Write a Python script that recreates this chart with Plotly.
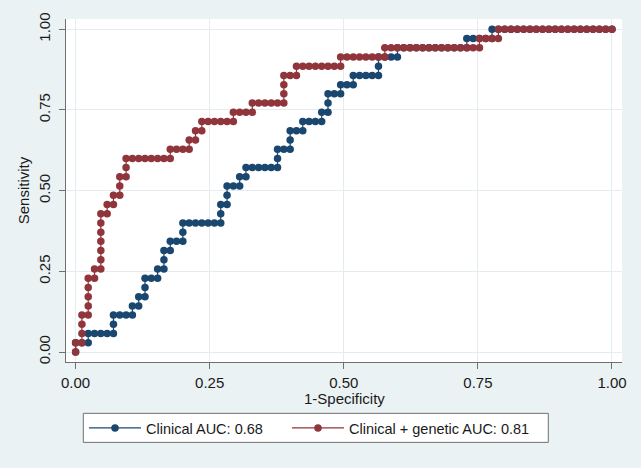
import plotly.graph_objects as go

# Counts of false positives / true positives at each plotted cutoff
N_NEG = 85
N_POS = 35

clinical_points = [
    (0, 0), (0, 1), (1, 1), (2, 1), (2, 2), (3, 2), (4, 2), (5, 2), (6, 2), (6, 3), (6, 4),
    (7, 4), (8, 4), (9, 4), (9, 5), (10, 5), (10, 6), (11, 6), (11, 7), (11, 8), (12, 8),
    (13, 8), (13, 9), (14, 9), (14, 10), (14, 11), (15, 11), (15, 12), (16, 12), (17, 12),
    (17, 13), (17, 14), (18, 14), (19, 14), (20, 14), (21, 14), (22, 14), (23, 14), (23, 15),
    (23, 16), (24, 16), (24, 17), (24, 18), (25, 18), (26, 18), (26, 19), (27, 19), (27, 20),
    (28, 20), (29, 20), (30, 20), (31, 20), (32, 20), (32, 21), (32, 22), (33, 22), (34, 22),
    (34, 23), (34, 24), (35, 24), (36, 24), (36, 25), (37, 25), (38, 25), (39, 25), (39, 26),
    (40, 26), (40, 27), (40, 28), (41, 28), (42, 28), (42, 29), (43, 29), (44, 29), (44, 30),
    (45, 30), (46, 30), (47, 30), (48, 30), (48, 31), (48, 32), (49, 32), (50, 32), (51, 32),
    (51, 33), (52, 33), (53, 33), (54, 33), (55, 33), (56, 33), (57, 33), (58, 33), (59, 33),
    (60, 33), (61, 33), (62, 33), (62, 34), (63, 34), (64, 34), (65, 34), (66, 34), (66, 35),
    (67, 35), (68, 35), (69, 35), (70, 35), (71, 35), (72, 35), (73, 35), (74, 35), (75, 35),
    (76, 35), (77, 35), (78, 35), (79, 35), (80, 35), (81, 35), (82, 35), (83, 35), (84, 35),
    (85, 35),
]

genetic_points = [
    (0, 0), (0, 1), (1, 1), (1, 2), (1, 3), (1, 4), (2, 4), (2, 5), (2, 6), (2, 7), (2, 8),
    (3, 8), (3, 9), (4, 9), (4, 10), (4, 11), (4, 12), (4, 13), (4, 14), (4, 15), (5, 15),
    (5, 16), (6, 16), (6, 17), (7, 17), (7, 18), (7, 19), (8, 19), (8, 20), (8, 21), (9, 21),
    (10, 21), (11, 21), (12, 21), (13, 21), (14, 21), (15, 21), (15, 22), (16, 22), (17, 22),
    (18, 22), (18, 23), (19, 23), (19, 24), (20, 24), (20, 25), (21, 25), (22, 25), (23, 25),
    (24, 25), (25, 25), (25, 26), (26, 26), (27, 26), (28, 26), (28, 27), (29, 27), (30, 27),
    (31, 27), (32, 27), (33, 27), (33, 28), (33, 29), (33, 30), (34, 30), (35, 30), (35, 31),
    (36, 31), (37, 31), (38, 31), (39, 31), (40, 31), (41, 31), (42, 31), (42, 32), (43, 32),
    (44, 32), (45, 32), (46, 32), (47, 32), (48, 32), (49, 32), (49, 33), (50, 33), (51, 33),
    (52, 33), (53, 33), (54, 33), (55, 33), (56, 33), (57, 33), (58, 33), (59, 33), (60, 33),
    (61, 33), (62, 33), (63, 33), (64, 33), (64, 34), (65, 34), (66, 34), (67, 34), (67, 35),
    (68, 35), (69, 35), (70, 35), (71, 35), (72, 35), (73, 35), (74, 35), (75, 35), (76, 35),
    (77, 35), (78, 35), (79, 35), (80, 35), (81, 35), (82, 35), (83, 35), (84, 35), (85, 35),
]

series_names = ["Clinical AUC: 0.68", "Clinical + genetic AUC: 0.81"]
series_colors = ["#1a476f", "#90353b"]
tick_vals = [0, 0.25, 0.5, 0.75, 1.0]
tick_text = ["0.00", "0.25", "0.50", "0.75", "1.00"]

FONT = "Arial, Liberation Sans, sans-serif"
TXT = "#1a1a1a"

fig = go.Figure()
for pts, name, color, leg in zip([clinical_points, genetic_points], series_names,
                                 series_colors, ["legend", "legend2"]):
    xs = [p[0] / N_NEG for p in pts]
    ys = [p[1] / N_POS for p in pts]
    fig.add_trace(go.Scatter(
        x=xs, y=ys, mode="lines+markers", name=name, legend=leg,
        line=dict(color=color, width=1.2),
        marker=dict(color=color, size=7.5, line=dict(width=0)),
    ))

axis_common = dict(
    tickvals=tick_vals, ticktext=tick_text,
    showline=True, linecolor="#707070", linewidth=1,
    ticks="outside", ticklen=6, tickcolor="#707070", tickwidth=1,
    showgrid=True, gridcolor="#e4ecef", gridwidth=1,
    zeroline=False, mirror=False, automargin=False,
    tickfont=dict(family=FONT, size=15, color=TXT),
)

# legend frame (drawn as a shape so its size matches the reference)
fig.add_shape(type="rect", xref="paper", yref="paper",
              x0=(83 - 65.7) / 556, x1=(548 - 65.7) / 556,
              y0=(361.7 - 442) / 342.7, y1=(361.7 - 413) / 342.7,
              fillcolor="#ffffff", line=dict(color="#707070", width=1), layer="below")

fig.add_annotation(text="1-Specificity", xref="paper", yref="paper",
                   x=0.5, y=(361.7 - 398) / 342.7, xanchor="center", yanchor="middle",
                   showarrow=False, font=dict(family=FONT, size=15, color=TXT))

legend_common = dict(
    orientation="h", xref="container", yref="container",
    y=1 - 428 / 468, xanchor="left", yanchor="middle",
    bgcolor="rgba(0,0,0,0)", borderwidth=0, itemwidth=52,
    font=dict(family=FONT, size=14.5, color=TXT),
)

fig.update_layout(
    width=641, height=468,
    paper_bgcolor="#eaf2f3", plot_bgcolor="#ffffff",
    margin=dict(l=66, r=19, t=19, b=106),
    font=dict(family=FONT, size=15, color=TXT),
    xaxis=dict(range=[-0.0179, 1.0187], ticklabelstandoff=1, **axis_common),
    yaxis=dict(range=[-0.031, 1.032], tickangle=-90, ticklabelstandoff=3,
               title=dict(text="Sensitivity", font=dict(family=FONT, size=15, color=TXT), standoff=2),
               **axis_common),
    showlegend=True,
    legend=dict(x=84 / 641, **legend_common),
    legend2=dict(x=287 / 641, **legend_common),
)

fig.write_html("out.html", config={"displayModeBar": False},
               post_script="document.body.style.margin='0';")
